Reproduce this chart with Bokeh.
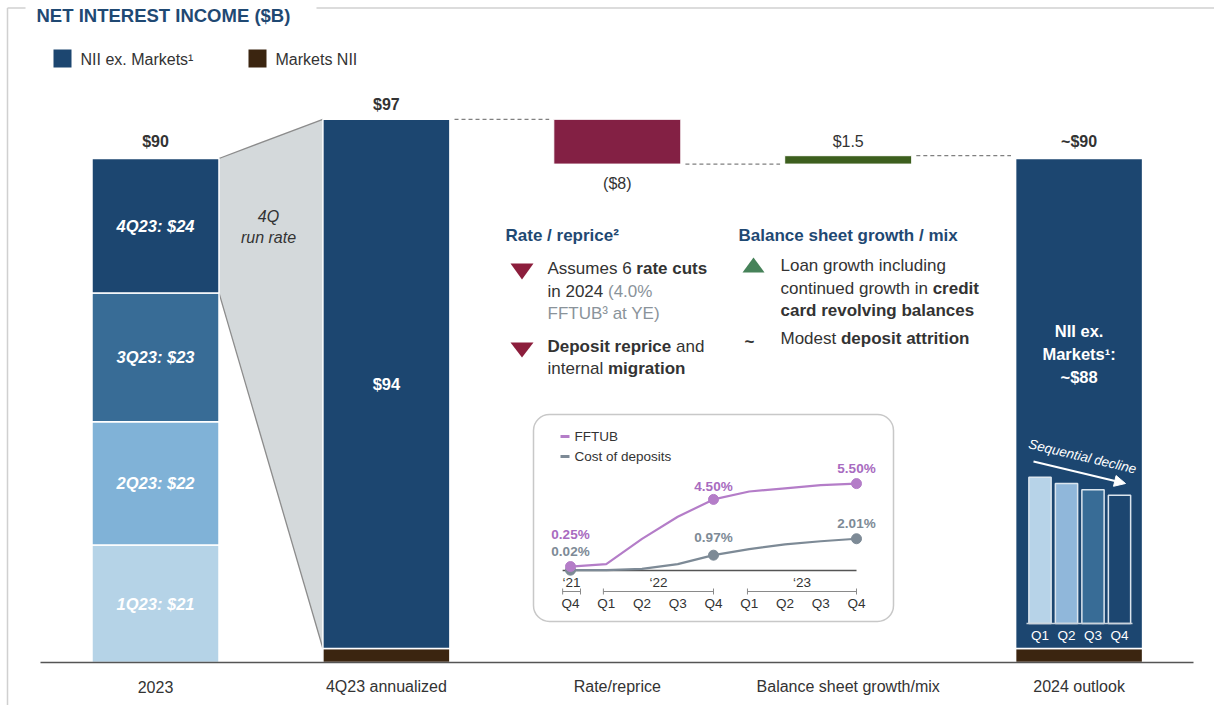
import numpy as np
from bokeh.plotting import figure
from bokeh.models import Range1d, Arrow, NormalHead
from bokeh.core.properties import value
from bokeh.embed import file_html
from bokeh.resources import INLINE

# ---------------- data ----------------
categories = ["2023", "4Q23 annualized", "Rate/reprice", "Balance sheet growth/mix", "2024 outlook"]
q2023_labels = ["1Q23: $21", "2Q23: $22", "3Q23: $23", "4Q23: $24"]
q2023_values = [21, 22, 23, 24]
nii_ex_markets = [94.5, 87.5]      # 4Q23 annualized, 2024 outlook
markets_nii = [2.5, 2.5]
rate_reprice = -8.0
bs_growth = 1.5
total_labels = ["$90", "$97", "~$90"]
change_labels = ["($8)", "$1.5"]
outlook_quarters = ["Q1", "Q2", "Q3", "Q4"]
outlook_quarter_values = [26.1, 25.0, 23.9, 22.9]
inset_quarters = ["Q4", "Q1", "Q2", "Q3", "Q4", "Q1", "Q2", "Q3", "Q4"]
inset_years = ["\u201821", "\u201822", "\u201823"]
fftub = [0.25, 0.40, 2.00, 3.40, 4.50, 5.00, 5.20, 5.40, 5.50]
cost_of_deposits = [0.02, 0.02, 0.10, 0.40, 0.97, 1.35, 1.65, 1.85, 2.01]
inset_point_idx = [0, 4, 8]
fftub_labels = ["0.25%", "4.50%", "5.50%"]
cost_labels = ["0.02%", "0.97%", "2.01%"]

# ---------------- styling ----------------
FONT = "Liberation Sans"
DARK_BLUE = "#1c4670"
Q_COLORS = ["#b5d3e7", "#80b2d7", "#386c96", "#1c4670"]
MINI_COLORS = ["#b7d3e8", "#90b7da", "#386c96", "#1c4670"]
BROWN = "#3b2510"
MAROON = "#832044"
GREEN = "#3d5f1e"
HEAD = "#1f4973"
TXT = "#333333"
GRAY_TXT = "#8a939a"
PURPLE = "#b47dc8"
PURPLE_TXT = "#a86bc0"
COST = "#7d8a96"

W, H = 1214, 705
OX, OY = 0, 0


def xr(v0, px0, ppu):
    return Range1d(v0 + (OX - px0) / ppu, v0 + (OX + W - px0) / ppu)


def yr(v0, px0, ppu):
    return Range1d(v0 - (OY + H - px0) / ppu, v0 + (px0 - OY) / ppu)


p = figure(width=W, height=H, x_range=xr(0, 155, 230.9), y_range=yr(0, 662, 5.6),
           output_backend="svg", toolbar_location=None, x_axis_location=None,
           y_axis_location=None, title=None, min_border=0,
           outline_line_color=None, background_fill_color="white")
p.xgrid.visible = False
p.ygrid.visible = False
p.extra_x_ranges = {"px": Range1d(OX, OX + W), "q": xr(0, 570, 35.75), "mq": xr(0, 1039.5, 26.5)}
p.extra_y_ranges = {"px": Range1d(OY + H, OY), "pct": yr(0, 570, 15.8), "mini": yr(0, 623, 5.6)}


def txt(x, y, s, size=16.5, bold=False, italic=False, color=TXT, align="left",
        baseline="middle", xn="px", yn="px", angle=0.0):
    style = "bold italic" if (bold and italic) else ("bold" if bold else ("italic" if italic else "normal"))
    p.text(x=[x], y=[y], text=[s], x_range_name=xn, y_range_name=yn,
           text_font=value(FONT), text_font_size=f"{size}px", text_font_style=style,
           text_color=color, text_align=align, text_baseline=baseline, angle=angle)


# Arial / Liberation Sans advance widths (1/1000 em) for composing mixed-weight lines
_REG = {" ": 278, "(": 333, ")": 333, "%": 889, ".": 278, ":": 278, "~": 584, "$": 556, "/": 278,
        "\u00b3": 333, "\u00b2": 333, "\u00b9": 333,
        "A": 667, "B": 667, "C": 722, "D": 722, "E": 667, "F": 611, "L": 556, "M": 833,
        "T": 611, "U": 722, "Y": 667,
        "a": 556, "b": 556, "c": 500, "d": 556, "e": 556, "f": 278, "g": 556, "h": 556,
        "i": 222, "k": 500, "l": 222, "m": 833, "n": 556, "o": 556, "p": 556, "r": 333,
        "s": 500, "t": 278, "u": 556, "v": 500, "w": 722, "x": 500, "y": 500}
_BOLD = {" ": 278, "(": 333, ")": 333, "%": 889, ".": 278, ":": 333, "~": 584, "$": 556, "/": 278,
         "A": 722, "B": 722, "C": 722, "D": 722, "E": 667, "F": 611, "L": 611, "M": 833,
         "T": 611, "U": 722, "Y": 667,
         "a": 556, "b": 611, "c": 556, "d": 611, "e": 556, "f": 333, "g": 611, "h": 611,
         "i": 278, "k": 556, "l": 278, "m": 889, "n": 611, "o": 611, "p": 611, "r": 389,
         "s": 556, "t": 333, "u": 611, "v": 556, "w": 778, "x": 556, "y": 556}


def text_w(s, bold, size):
    tab = _BOLD if bold else _REG
    return sum(tab.get(ch, 556) for ch in s) * size / 1000.0


def rich_line(x, y, parts, size=17):
    for s, bold, color in parts:
        lead = len(s) - len(s.lstrip())
        if s.strip():
            txt(x + text_w(s[:lead], bold, size), y, s.strip(), size=size, bold=bold, color=color)
        x += text_w(s, bold, size)


BW = 0.55
HW = BW / 2

# ---------------- frame / title / legend ----------------
p.segment(x0=[7, 316, 7], y0=[7.5, 7.5, 7.5], x1=[25, 1214, 7], y1=[7.5, 7.5, 705],
          x_range_name="px", y_range_name="px", line_color="#d0d0d0", line_width=1.5)
txt(36, 15, "NET INTEREST INCOME ($B)", size=18.5, bold=True, color=HEAD)
p.quad(left=[53, 248], right=[71, 266], top=[49, 49], bottom=[67, 67],
       x_range_name="px", y_range_name="px", fill_color=[DARK_BLUE, BROWN], line_color=None)
txt(80, 59, "NII ex. Markets\u00b9", size=16)
txt(275, 59, "Markets NII", size=16)

# ---------------- trapezoid (4Q run rate) ----------------
q_tops = np.cumsum(q2023_values)
q_bottoms = q_tops - np.array(q2023_values)
ann_top = markets_nii[0] + nii_ex_markets[0]
p.patch(x=[0 + HW, 1 - HW, 1 - HW, 0 + HW],
        y=[q_tops[-1], ann_top, markets_nii[0], q_bottoms[-1]],
        fill_color="#d4d9db", line_color=None)
p.segment(x0=[0 + HW, 0 + HW], y0=[q_tops[-1], q_bottoms[-1]], x1=[1 - HW, 1 - HW],
          y1=[ann_top, markets_nii[0]], line_color="#8c8c8c", line_width=1.3)
txt(268, 216, "4Q", size=16, italic=True, align="center")
txt(268, 237, "run rate", size=16, italic=True, align="center")

# ---------------- bars ----------------
p.vbar(x=[0] * 4, bottom=q_bottoms, top=q_tops, width=BW, fill_color=Q_COLORS,
       line_color="white", line_width=1.5)
p.vbar(x=[1, 4], bottom=[0, 0], top=markets_nii, width=BW, fill_color=BROWN,
       line_color="white", line_width=1.5)
p.vbar(x=[1, 4], bottom=markets_nii, top=np.add(markets_nii, nii_ex_markets), width=BW,
       fill_color=DARK_BLUE, line_color="white", line_width=1.5)
after_rate = ann_top + rate_reprice
after_bs = after_rate + bs_growth
p.vbar(x=[2], bottom=[after_rate], top=[ann_top], width=BW, fill_color=MAROON,
       line_color="white", line_width=1)
p.vbar(x=[3], bottom=[after_rate], top=[after_bs], width=BW, fill_color=GREEN,
       line_color="white", line_width=1)

# connectors
p.segment(x0=[1 + HW + 0.02, 2 + HW + 0.02, 3 + HW + 0.02],
          x1=[2 - HW - 0.02, 3 - HW - 0.02, 4 - HW - 0.02],
          y0=[ann_top, after_rate, after_bs], y1=[ann_top, after_rate, after_bs],
          line_color="#808080", line_width=1.2, line_dash="4 3")

# segment labels
for lab, b, t in zip(q2023_labels, q_bottoms, q_tops):
    txt(0, (b + t) / 2, lab, size=16.5, bold=True, italic=True, color="white", align="center",
        xn="default", yn="default")
txt(1, markets_nii[0] + nii_ex_markets[0] / 2, "$94", size=16.5, bold=True, color="white",
    align="center", xn="default", yn="default")
txt(4, 330, "NII ex.", size=16.5, bold=True, color="white", align="center", xn="default")
txt(4, 353, "Markets\u00b9:", size=16.5, bold=True, color="white", align="center", xn="default")
txt(4, 376, "~$88", size=16.5, bold=True, color="white", align="center", xn="default")

# totals / changes
txt(0, 141, total_labels[0], size=16, bold=True, align="center", xn="default")
txt(1, 104, total_labels[1], size=16, bold=True, align="center", xn="default")
txt(4, 141, total_labels[2], size=16, bold=True, align="center", xn="default")
txt(2, 183, change_labels[0], size=16, align="center", xn="default")
txt(3, 141, change_labels[1], size=16, align="center", xn="default")

# category labels
for i, c in enumerate(categories):
    txt(i, 686, c, size=16, align="center", xn="default")

# baseline
p.segment(x0=[40], x1=[1193], y0=[0], y1=[0], x_range_name="px",
          line_color="#555555", line_width=1.5)

# ---------------- mini bars in 2024 outlook ----------------
p.vbar(x=list(range(4)), bottom=0, top=outlook_quarter_values, width=0.84,
       x_range_name="mq", y_range_name="mini", fill_color=MINI_COLORS,
       line_color="#dbe5ee", line_width=1.5)
p.segment(x0=[-0.51], x1=[3.49], y0=[0], y1=[0], x_range_name="mq", y_range_name="mini",
          line_color="#c9d3dc", line_width=1.5)
for i, q in enumerate(outlook_quarters):
    txt(i, 635, q, size=13.5, color="white", align="center", xn="mq")
txt(1082, 456, "Sequential decline", size=13.5, italic=True, color="white", align="center",
    angle=-0.234)
p.add_layout(Arrow(end=NormalHead(size=11, fill_color="white", line_color="white"),
                   x_start=1033, y_start=461, x_end=1125, y_end=483,
                   x_range_name="px", y_range_name="px", line_color="white", line_width=2))

# ---------------- commentary ----------------
txt(505, 235, "Rate / reprice\u00b2", size=17, bold=True, color=HEAD)
txt(738, 235, "Balance sheet growth / mix", size=17, bold=True, color=HEAD)
p.patches(xs=[[510, 533, 521.5], [510, 533, 521.5]], ys=[[263, 263, 279], [342, 342, 357]],
          x_range_name="px", y_range_name="px", fill_color="#8c1e3c", line_color=None)
p.patch(x=[742, 764, 753], y=[272, 272, 257], x_range_name="px", y_range_name="px",
        fill_color="#468259", line_color=None)
lines = [
    (547, 268, [("Assumes 6 ", False, TXT), ("rate cuts", True, TXT)]),
    (547, 291, [("in 2024 ", False, TXT), ("(4.0%", False, GRAY_TXT)]),
    (547, 313, [("FFTUB\u00b3 at YE)", False, GRAY_TXT)]),
    (547, 346, [("Deposit reprice", True, TXT), (" and", False, TXT)]),
    (547, 368, [("internal ", False, TXT), ("migration", True, TXT)]),
    (780, 265, [("Loan growth including", False, TXT)]),
    (780, 288, [("continued growth in ", False, TXT), ("credit", True, TXT)]),
    (780, 310, [("card revolving balances", True, TXT)]),
    (780, 338, [("Modest ", False, TXT), ("deposit attrition", True, TXT)]),
]
for x, y, parts in lines:
    rich_line(x, y, parts)
txt(749, 341, "~", size=17, bold=True, align="center")

# ---------------- inset chart ----------------
p.quad(left=[533], right=[893], top=[414], bottom=[621], x_range_name="px", y_range_name="px",
       fill_color="white", line_color="#c8c8c8", line_width=1.5, border_radius=16)
p.segment(x0=[-0.22], x1=[8], y0=[0], y1=[0], x_range_name="q", y_range_name="pct",
          line_color="#555555", line_width=1.5)
qs = list(range(len(fftub)))
p.line(x=qs, y=cost_of_deposits, x_range_name="q", y_range_name="pct", line_color=COST, line_width=2.2)
p.line(x=qs, y=fftub, x_range_name="q", y_range_name="pct", line_color=PURPLE, line_width=2.2)
p.scatter(x=inset_point_idx, y=[cost_of_deposits[i] for i in inset_point_idx], x_range_name="q",
          y_range_name="pct", size=10, fill_color=COST, line_color=COST)
p.scatter(x=inset_point_idx, y=[fftub[i] for i in inset_point_idx], x_range_name="q",
          y_range_name="pct", size=10, fill_color=PURPLE, line_color=PURPLE)
for i, lab, yy in zip(inset_point_idx, fftub_labels, [534, 486, 468]):
    txt(i, yy, lab, size=13.5, bold=True, color=PURPLE_TXT, align="center", xn="q")
for i, lab, yy in zip(inset_point_idx, cost_labels, [551, 537, 523]):
    txt(i, yy, lab, size=13.5, bold=True, color=COST, align="center", xn="q")
# inset legend
p.segment(x0=[560, 560], x1=[569, 569], y0=[436, 456], y1=[436, 456], x_range_name="px",
          y_range_name="px", line_color=[PURPLE, COST], line_width=3)
txt(574, 436, "FFTUB", size=13.5)
txt(574, 456, "Cost of deposits", size=13.5)
# inset axis labels
br_x0 = [-0.22, 0.92, 4.95]
br_x1 = [0.28, 4.0, 8.0]
p.segment(x0=br_x0, x1=br_x1, y0=[591] * 3, y1=[591] * 3, x_range_name="q", y_range_name="px",
          line_color="#8a8a8a", line_width=1)
p.segment(x0=br_x0 + br_x1, x1=br_x0 + br_x1, y0=[588] * 6, y1=[594] * 6, x_range_name="q",
          y_range_name="px", line_color="#8a8a8a", line_width=1)
for yl, a, b in zip(inset_years, br_x0, br_x1):
    txt((a + b) / 2, 582, yl, size=13.5, align="center", xn="q")
for i, ql in enumerate(inset_quarters):
    txt(i, 603, ql, size=13.5, align="center", xn="q")

open("out.html", "w").write(file_html(p, INLINE))
